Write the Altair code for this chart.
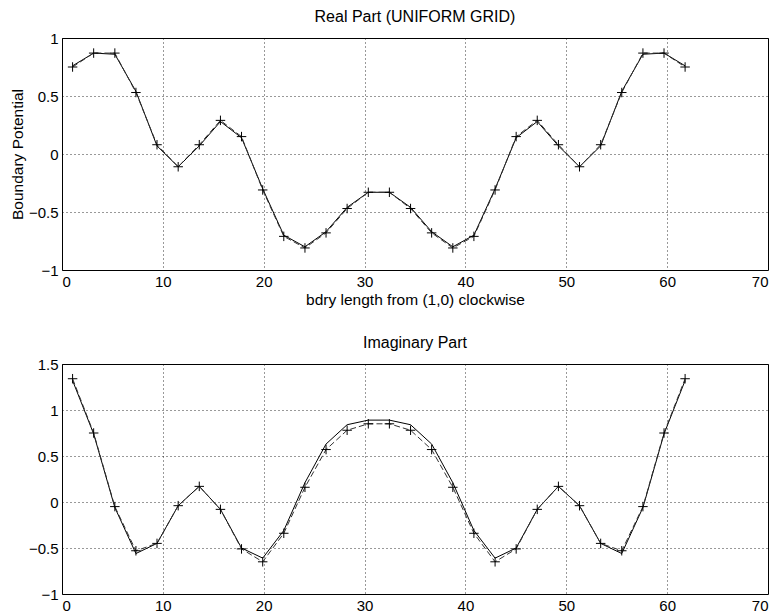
import altair as alt
import pandas as pd

x_vals = [1.05, 3.14, 5.24, 7.33, 9.42, 11.52, 13.61, 15.71, 17.80, 19.90,
          21.99, 24.09, 26.18, 28.27, 30.37, 32.46, 34.56, 36.65, 38.75, 40.84,
          42.94, 45.03, 47.12, 49.22, 51.31, 53.41, 55.50, 57.60, 59.69, 61.78]

real_marked = [0.75, 0.87, 0.87, 0.53, 0.08, -0.11, 0.08, 0.29, 0.15, -0.31,
               -0.71, -0.81, -0.68, -0.47, -0.33, -0.33, -0.47, -0.68, -0.81, -0.71,
               -0.31, 0.15, 0.29, 0.08, -0.11, 0.08, 0.53, 0.87, 0.87, 0.75]
real_solid = [0.76, 0.87, 0.86, 0.54, 0.07, -0.11, 0.07, 0.28, 0.14, -0.30,
              -0.70, -0.80, -0.67, -0.46, -0.33, -0.33, -0.46, -0.67, -0.80, -0.70,
              -0.30, 0.14, 0.28, 0.07, -0.11, 0.07, 0.54, 0.86, 0.87, 0.76]

imag_marked = [1.34, 0.75, -0.05, -0.53, -0.45, -0.04, 0.17, -0.08, -0.51, -0.65,
               -0.34, 0.16, 0.57, 0.78, 0.85, 0.85, 0.78, 0.57, 0.16, -0.34,
               -0.65, -0.51, -0.08, 0.17, -0.04, -0.45, -0.53, -0.05, 0.75, 1.34]
imag_solid = [1.32, 0.74, -0.06, -0.56, -0.45, -0.04, 0.17, -0.08, -0.50, -0.61,
              -0.31, 0.21, 0.63, 0.84, 0.89, 0.89, 0.84, 0.63, 0.21, -0.31,
              -0.61, -0.50, -0.08, 0.17, -0.04, -0.45, -0.56, -0.06, 0.74, 1.32]

x_ticks = [0, 10, 20, 30, 40, 50, 60, 70]
real_ticks = [-1, -0.5, 0, 0.5, 1]
imag_ticks = [-1, -0.5, 0, 0.5, 1, 1.5]

FONT = "Liberation Sans"
PLUS = "M-1,0L1,0M0,-1L0,1"


def panel(solid, marked, title, y_dom, y_ticks, x_title, y_title, h):
    df = pd.DataFrame({"x": x_vals, "solid": solid, "marked": marked})
    xenc = alt.X("x:Q", scale=alt.Scale(domain=[0, 70], nice=False, zero=False),
                 axis=alt.Axis(values=x_ticks, title=x_title, format="d",
                               titlePadding=3, labelPadding=4))
    yaxis = alt.Axis(values=y_ticks, title=y_title, format="~g", titlePadding=3,
                     labelPadding=4)
    ysc = alt.Scale(domain=y_dom, nice=False, zero=False)
    base = alt.Chart(df)
    l1 = base.mark_line(color="#000000", strokeWidth=1).encode(
        x=xenc, y=alt.Y("solid:Q", scale=ysc, axis=yaxis))
    l2 = base.mark_line(color="#333333", strokeWidth=1, strokeDash=[6, 3]).encode(
        x=xenc, y=alt.Y("marked:Q", scale=ysc, axis=yaxis))
    p = base.mark_point(shape=PLUS, size=90, filled=False, color="#000000",
                        strokeWidth=1, opacity=1).encode(
        x=xenc, y=alt.Y("marked:Q", scale=ysc, axis=yaxis))
    return alt.layer(l1, l2, p).properties(
        width=706, height=h,
        title=alt.TitleParams(title, fontSize=16, font=FONT, fontWeight="normal",
                              color="#000000", offset=6))


top = panel(real_solid, real_marked, "Real Part (UNIFORM GRID)", [-1, 1], real_ticks,
            "bdry length from (1,0) clockwise", "Boundary Potential", 232)
bottom = panel(imag_solid, imag_marked, "Imaginary Part", [-1, 1.5], imag_ticks,
               None, None, 230)

chart = alt.vconcat(top, bottom, spacing=26).properties(
    padding={"left": 1, "top": 0, "right": 3, "bottom": 0}
).configure_view(
    stroke="#000000", strokeWidth=1
).configure_axis(
    grid=True, gridColor="#000000", gridDash=[1, 3], gridOpacity=0.8, gridWidth=1,
    domain=False, ticks=False, labelFont=FONT, labelFontSize=15, labelColor="#000000",
    titleFont=FONT, titleFontSize=15.5, titleColor="#000000", titleFontWeight="normal"
)

chart.save("out.html", embed_options={"renderer": "svg", "actions": False})
